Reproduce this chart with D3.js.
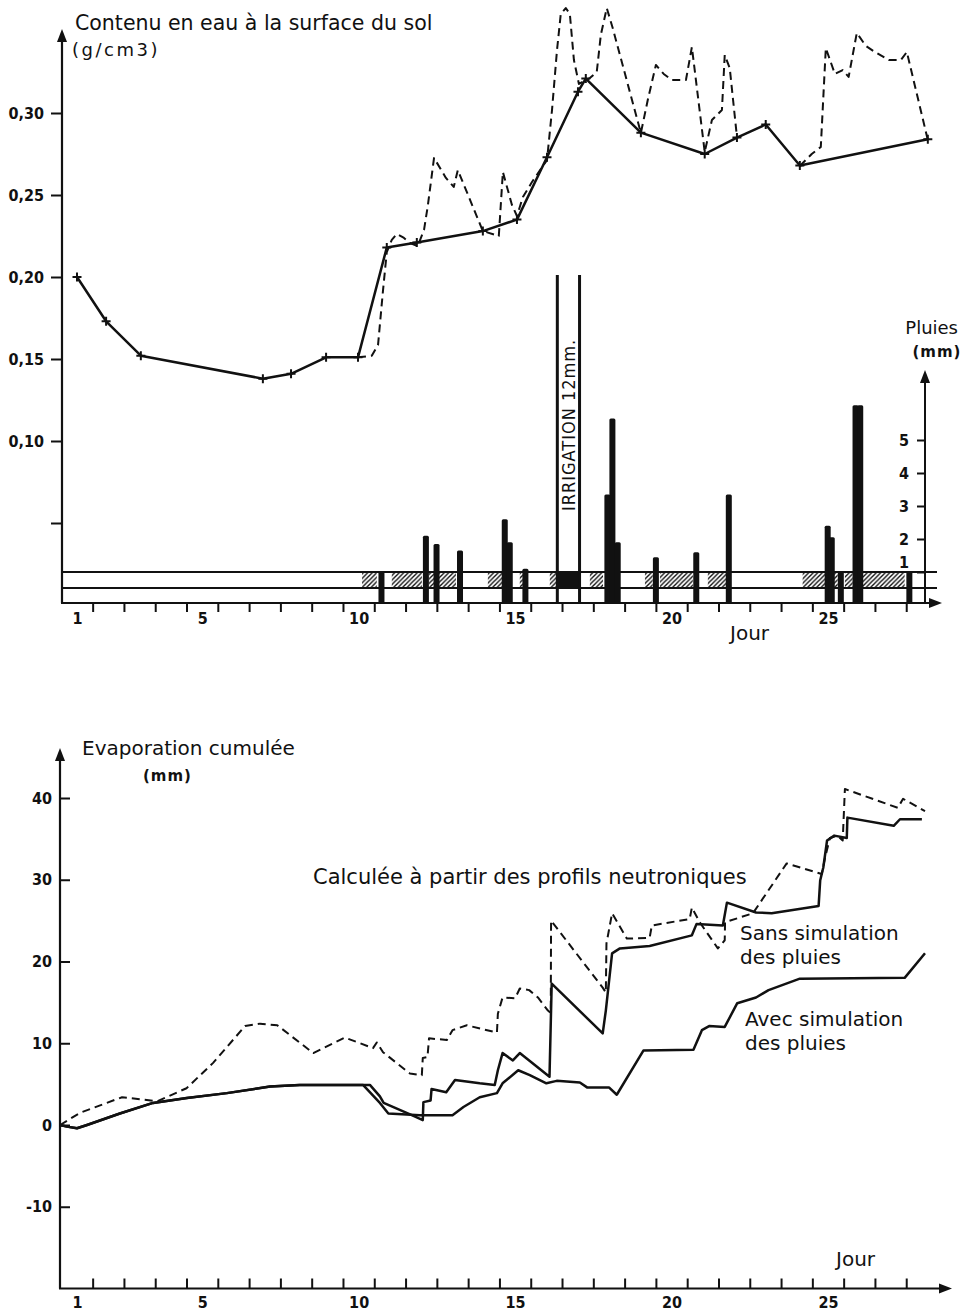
<!DOCTYPE html>
<html>
<head>
<meta charset="utf-8">
<script src="https://cdn.jsdelivr.net/npm/d3@7"></script>
<style>
  body { margin: 0; background: #fff; }
  svg { display: block; }
  text { font-family: 'DejaVu Sans', sans-serif; fill: #111; }
  .tick text, .narrow { font-family: 'DejaVu Sans Condensed', 'DejaVu Sans', sans-serif; }
</style>
</head>
<body>
<svg id="fig" width="962" height="1314"></svg>
<script>
// ---------- axis ticks ----------
const dayTicks = d3.range(1.5, 28, 1);          // day boundaries
const dayLabels = [1, 5, 10, 15, 20, 25];
const waterTicks = [0.05, 0.10, 0.15, 0.20, 0.25, 0.30];
const waterLabelled = [0.10, 0.15, 0.20, 0.25, 0.30];
const rainTicks = [1, 2, 3, 4, 5];
const evapTicks = [-10, 0, 10, 20, 30, 40];

// ---------- top panel: surface water content (g/cm3) ----------
const measuredDays  = [1, 1.93, 3.04, 6.94, 7.84, 8.96, 9.98, 10.9, 11.86, 13.97, 15.06, 16.02, 17.01, 17.26, 19.02, 21.06, 22.09, 23.01, 24.1, 28.19];
const measuredWater = [0.200, 0.173, 0.152, 0.138, 0.141, 0.151, 0.151, 0.218, 0.221, 0.228, 0.235, 0.273, 0.313, 0.321, 0.288, 0.275, 0.285, 0.293, 0.268, 0.284];

// simulated water content (null = gap in the curve)
const simulatedDays  = [9.98, 10.42, 10.62, 10.78, 10.90, 11.06, 11.22, 11.45, 11.64, 11.89, 12.09, 12.21, 12.41, 12.79, 13.04, 13.17, 13.97, 14.48, 14.61, 14.90, 15.06, 15.25, 15.54, 16.02, 16.18, 16.34, 16.46, 16.62, 16.75, 16.88, 17.04, 17.39, 17.61, 17.74, 17.93, 18.12, 19.02, 19.24, 19.50, 19.75, 20.01, 20.46, 20.65, 21.06, 21.29, 21.61, 21.70, 21.86, 22.09, 23.0,
                        24.10, 24.48, 24.77, 24.93, 25.22, 25.47, 25.66, 25.92, 26.21, 26.50, 26.94, 27.33, 27.52, 28.19];
const simulatedWater = [0.151, 0.152, 0.1585, 0.192, 0.2152, 0.2226, 0.2262, 0.2238, 0.2207, 0.2189, 0.2287, 0.2433, 0.2726, 0.2604, 0.2549, 0.2652, 0.228, 0.225, 0.264, 0.2439, 0.2372, 0.2488, 0.2579, 0.2713, 0.3018, 0.3384, 0.3604, 0.364, 0.3604, 0.3323, 0.3177, 0.3213, 0.325, 0.3476, 0.364, 0.3518, 0.2878, 0.3079, 0.3293, 0.3238, 0.3201, 0.3201, 0.3402, 0.2762, 0.2957, 0.3018, 0.3354, 0.3274, 0.2854, null,
                        0.2677, 0.275, 0.2793, 0.3396, 0.3238, 0.3262, 0.322, 0.3488, 0.3409, 0.3372, 0.3323, 0.3323, 0.3372, 0.2835];

// rainfall (mm)
const rainDays = [10.73, 12.15, 12.49, 13.24, 14.67, 14.83, 15.33, 17.95, 18.11, 18.28, 19.50, 20.79, 21.83, 24.99, 25.12, 25.41, 25.88, 26.03, 27.60];
const rainMm   = [1.0, 2.1, 1.85, 1.65, 2.6, 1.9, 1.1, 3.35, 5.65, 1.9, 1.45, 1.6, 3.35, 2.4, 2.05, 1.0, 6.05, 6.05, 1.0];

// irrigation (two bounding days) and amount
const irrigationDays = [16.35, 17.06];
const irrigationMm = 12;
const rainCap = 10;   // bars taller than this are cut

// hatched periods in the band under the curves
const hatchFrom = [10.11, 11.06, 12.25, 14.13, 15.15, 16.11, 17.39, 19.15, 19.63, 21.16, 24.19, 25.15, 25.54, 26.11];
const hatchTo   = [10.58, 12.02, 13.11, 14.61, 15.25, 16.34, 17.81, 19.40, 20.68, 21.77, 24.96, 25.31, 25.79, 27.45];

// ---------- bottom panel: cumulated evaporation (mm) ----------
const neutronDays = [0.46, 1.1, 2.44, 3.56, 4.5, 5.35, 6.37, 6.85, 7.4, 8.55, 9.56, 10.46, 10.58, 10.78, 11.64, 12.02, 12.05, 12.2, 12.25, 12.82, 13.0, 13.46, 13.88, 14.42, 14.45, 14.6, 15.0, 15.15, 15.45, 15.73, 16.05, 16.14, 16.15, 17.8, 17.9, 17.92, 18.1, 18.57, 19.3, 19.37, 20.58, 20.65, 20.9, 21.48, 21.7, 21.71, 22.6, 23.68, 24.8, 24.9, 25.06, 25.3, 25.47, 25.54, 27.23, 27.4, 28.1];
const neutronEvap = [0, 1.5, 3.4, 2.9, 4.5, 7.6, 12.1, 12.4, 12.2, 8.8, 10.7, 9.4, 10.1, 8.9, 6.3, 6.1, 8.2, 8.3, 10.6, 10.4, 11.6, 12.2, 11.8, 11.3, 13.6, 15.6, 15.5, 16.7, 16.5, 15.6, 14.0, 13.7, 25.0, 16.8, 16.2, 22.2, 25.9, 22.8, 22.9, 24.4, 25.2, 26.6, 24.8, 21.6, 22.6, 24.8, 25.9, 32.0, 30.7, 32.6, 35.1, 35.4, 34.8, 41.1, 38.8, 39.9, 38.4];

const sansDays = [0.46, 0.68, 1.0, 1.32, 2.37, 3.43, 4.51, 5.79, 7.17, 8.12, 10.14, 10.36, 10.68, 10.8, 11.7, 12.05, 12.07, 12.3, 12.33, 12.8, 13.08, 13.87, 14.35, 14.45, 14.6, 14.93, 15.15, 16.1, 16.17, 17.8, 17.9, 18.1, 18.35, 19.3, 20.65, 20.8, 21.64, 21.77, 22.7, 23.2, 24.7, 24.75, 24.85, 24.97, 25.2, 25.6, 25.62, 27.1, 27.3, 28.0];
const sansEvap = [0, -0.2, -0.4, 0, 1.4, 2.7, 3.3, 3.9, 4.7, 4.9, 4.9, 4.9, 3.5, 2.7, 1.2, 0.6, 2.8, 3.0, 4.4, 4.0, 5.5, 5.1, 4.9, 6.7, 8.8, 7.9, 8.8, 5.9, 17.3, 11.2, 14.0, 21.0, 21.6, 21.9, 23.2, 24.6, 24.4, 27.2, 26.0, 25.9, 26.8, 29.9, 31.5, 34.8, 35.4, 35.1, 37.6, 36.6, 37.4, 37.4];

const avecDays = [0.46, 0.68, 1.0, 1.32, 2.37, 3.43, 4.51, 5.79, 7.17, 8.12, 10.14, 10.68, 10.95, 11.96, 13.0, 13.35, 13.87, 14.42, 14.6, 15.1, 15.47, 16.0, 16.33, 17.07, 17.3, 18.0, 18.25, 19.1, 20.7, 20.97, 21.2, 21.7, 22.1, 22.7, 23.1, 24.1, 27.45, 28.1];
const avecEvap = [0, -0.2, -0.4, 0, 1.4, 2.7, 3.3, 3.9, 4.7, 4.9, 4.9, 2.7, 1.4, 1.2, 1.2, 2.2, 3.4, 3.9, 5.1, 6.7, 6.1, 5.1, 5.4, 5.2, 4.6, 4.6, 3.7, 9.1, 9.2, 11.6, 12.1, 12.0, 14.9, 15.6, 16.5, 17.9, 18.0, 21.0];

// ---------- drawing ----------
const INK = "#111";
const svg = d3.select("#fig");
svg.append("rect").attr("width", 962).attr("height", 1314).attr("fill", "#fff");

const defs = svg.append("defs");
const pat = defs.append("pattern").attr("id", "hatch")
  .attr("patternUnits", "userSpaceOnUse").attr("width", 4.5).attr("height", 4.5);
pat.append("path").attr("d", "M-1,1 L1,-1 M0,4.5 L4.5,0 M3.5,5.5 L5.5,3.5")
  .attr("stroke", INK).attr("stroke-width", 1.4);

const x = d3.scaleLinear().domain([1, 25]).range([77, 828]);
const yWater = d3.scaleLinear().domain([0.10, 0.30]).range([441, 113]);
const yRain = d3.scaleLinear().domain([0, 5]).range([605, 440]);
const yEvap = d3.scaleLinear().domain([0, 40]).range([1125, 798]);

const TOP_BASE = 603, TOP_LEFT = 62, TOP_END = 942, TOP_ARROW_Y = 29;
const RAIN_X = 925, RAIN_ARROW_Y = 370;
const STRIP_TOP = yRain(1), STRIP_MID = 588, STRIP_END = 937;
const BOT_LEFT = 60, BOT_BASE = yEvap(-20), BOT_END = 952, BOT_ARROW_Y = 748;

function arrow(g, px, py, dir) {
  const L = 13, W = 5;
  const d = dir === "up"
    ? `M${px},${py} L${px - W},${py + L} L${px + W},${py + L} Z`
    : `M${px},${py} L${px - L},${py - W} L${px - L},${py + W} Z`;
  g.append("path").attr("d", d).attr("fill", INK);
}
function styleAxis(g, size, weight) {
  g.attr("font-family", null).attr("font-size", size).attr("font-weight", weight);
  g.selectAll(".tick line").attr("stroke", INK).attr("stroke-width", 2);
  g.selectAll(".tick text").attr("fill", INK);
  g.select(".domain").remove();
}
const comma = v => d3.format(".2f")(v).replace(".", ",");

// ===== top panel =====
const panelTop = svg.append("g");

// band under the curves
panelTop.selectAll("rect.hatch").data(d3.zip(hatchFrom, hatchTo)).join("rect")
  .attr("class", "hatch")
  .attr("x", d => x(d[0])).attr("width", d => x(d[1]) - x(d[0]))
  .attr("y", STRIP_TOP + 1).attr("height", STRIP_MID - STRIP_TOP - 2)
  .attr("fill", "url(#hatch)");
panelTop.append("rect")
  .attr("x", x(irrigationDays[0])).attr("width", x(irrigationDays[1]) - x(irrigationDays[0]))
  .attr("y", STRIP_TOP).attr("height", STRIP_MID - STRIP_TOP).attr("fill", INK);
[STRIP_TOP, STRIP_MID].forEach(yy =>
  panelTop.append("line").attr("x1", TOP_LEFT).attr("x2", STRIP_END).attr("y1", yy).attr("y2", yy)
    .attr("stroke", INK).attr("stroke-width", 2));

// rain bars
panelTop.selectAll("rect.rain").data(d3.zip(rainDays, rainMm)).join("rect")
  .attr("class", "rain")
  .attr("x", d => x(d[0]) - 3).attr("width", 6)
  .attr("y", d => yRain(d[1])).attr("height", d => TOP_BASE - yRain(d[1]))
  .attr("rx", 1.5).attr("fill", INK);

// irrigation
irrigationDays.forEach(d =>
  panelTop.append("line").attr("x1", x(d)).attr("x2", x(d))
    .attr("y1", TOP_BASE).attr("y2", yRain(Math.min(irrigationMm, rainCap)))
    .attr("stroke", INK).attr("stroke-width", 3));
panelTop.append("text").attr("class", "narrow")
  .attr("transform", `translate(${(x(irrigationDays[0]) + x(irrigationDays[1])) / 2 + 6.5},511) rotate(-90)`)
  .attr("font-size", 18).attr("letter-spacing", 1)
  .text(`IRRIGATION ${irrigationMm}mm.`);

// axes
panelTop.append("line").attr("x1", TOP_LEFT).attr("x2", TOP_LEFT).attr("y1", TOP_BASE).attr("y2", TOP_ARROW_Y + 8)
  .attr("stroke", INK).attr("stroke-width", 2.2);
arrow(panelTop, TOP_LEFT, TOP_ARROW_Y, "up");
panelTop.append("line").attr("x1", TOP_LEFT - 1).attr("x2", TOP_END - 8).attr("y1", TOP_BASE).attr("y2", TOP_BASE)
  .attr("stroke", INK).attr("stroke-width", 2.2);
arrow(panelTop, TOP_END, TOP_BASE, "right");

panelTop.append("g").attr("transform", `translate(${TOP_LEFT},0)`)
  .call(d3.axisLeft(yWater).tickValues(waterTicks).tickSize(11).tickPadding(7)
    .tickFormat(v => waterLabelled.includes(v) ? comma(v) : ""))
  .call(g => styleAxis(g, 16, "bold"));

panelTop.append("g").attr("transform", `translate(0,${TOP_BASE})`)
  .call(d3.axisBottom(x).tickValues(dayTicks).tickSize(9).tickFormat(""))
  .call(g => styleAxis(g, 16, "bold"));
panelTop.append("g").attr("transform", `translate(0,${TOP_BASE})`)
  .call(d3.axisBottom(x).tickValues(dayLabels).tickSize(0).tickPadding(10).tickFormat(d3.format("d")))
  .call(g => styleAxis(g, 16, "bold"));

// rain axis
panelTop.append("line").attr("x1", RAIN_X).attr("x2", RAIN_X).attr("y1", TOP_BASE).attr("y2", RAIN_ARROW_Y + 8)
  .attr("stroke", INK).attr("stroke-width", 2);
arrow(panelTop, RAIN_X, RAIN_ARROW_Y, "up");
panelTop.append("g").attr("transform", `translate(${RAIN_X},0)`)
  .call(d3.axisLeft(yRain).tickValues(rainTicks).tickSize(8).tickPadding(8).tickFormat(d3.format("d")))
  .call(g => styleAxis(g, 16, "bold"))
  .call(g => g.selectAll(".tick").filter(d => d === 1).select("text").attr("y", -10));
panelTop.append("text").attr("x", 958).attr("y", 334).attr("text-anchor", "end").attr("font-size", 18).text("Pluies");
panelTop.append("text").attr("x", 937).attr("y", 357).attr("text-anchor", "middle").attr("font-size", 15)
  .attr("font-weight", "bold").attr("letter-spacing", 1).text("(mm)");

// titles
panelTop.append("text").attr("x", 75).attr("y", 30).attr("font-size", 20.5).text("Contenu en eau à la surface du sol");
panelTop.append("text").attr("x", 72).attr("y", 56).attr("font-size", 18).attr("letter-spacing", 2.5).text("(g/cm3)");
panelTop.append("text").attr("x", 730).attr("y", 640).attr("font-size", 20).text("Jour");

// curves
const waterLine = d3.line().defined(d => d[1] != null).x(d => x(d[0])).y(d => yWater(d[1]));
panelTop.append("path").datum(d3.zip(simulatedDays, simulatedWater))
  .attr("d", waterLine).attr("fill", "none").attr("stroke", INK)
  .attr("stroke-width", 2).attr("stroke-dasharray", "8,5").attr("stroke-linejoin", "round");
panelTop.append("path").datum(d3.zip(measuredDays, measuredWater))
  .attr("d", waterLine).attr("fill", "none").attr("stroke", INK)
  .attr("stroke-width", 2.5).attr("stroke-linejoin", "round");
panelTop.selectAll("path.plus").data(d3.zip(measuredDays, measuredWater)).join("path")
  .attr("class", "plus")
  .attr("transform", d => `translate(${x(d[0])},${yWater(d[1])})`)
  .attr("d", "M-4.5,0H4.5M0,-4.5V4.5").attr("stroke", INK).attr("stroke-width", 2);

// ===== bottom panel =====
const panelBot = svg.append("g");
panelBot.append("line").attr("x1", BOT_LEFT).attr("x2", BOT_LEFT).attr("y1", BOT_BASE).attr("y2", BOT_ARROW_Y + 8)
  .attr("stroke", INK).attr("stroke-width", 2.2);
arrow(panelBot, BOT_LEFT, BOT_ARROW_Y, "up");
panelBot.append("line").attr("x1", BOT_LEFT - 1).attr("x2", BOT_END - 8).attr("y1", BOT_BASE).attr("y2", BOT_BASE)
  .attr("stroke", INK).attr("stroke-width", 2.2);
arrow(panelBot, BOT_END, BOT_BASE, "right");

panelBot.append("g").attr("transform", `translate(${BOT_LEFT},0)`)
  .call(d3.axisLeft(yEvap).tickValues(evapTicks).tickSize(-10).tickPadding(8)
    .tickFormat(v => String(v)))
  .call(g => styleAxis(g, 16, "bold"));
panelBot.append("g").attr("transform", `translate(0,${BOT_BASE})`)
  .call(d3.axisBottom(x).tickValues(dayTicks).tickSize(-10).tickFormat(""))
  .call(g => styleAxis(g, 16, "bold"));
panelBot.append("g").attr("transform", `translate(0,${BOT_BASE})`)
  .call(d3.axisBottom(x).tickValues(dayLabels).tickSize(0).tickPadding(8).tickFormat(d3.format("d")))
  .call(g => styleAxis(g, 16, "bold"));

panelBot.append("text").attr("x", 82).attr("y", 755).attr("font-size", 20).text("Evaporation cumulée");
panelBot.append("text").attr("x", 143).attr("y", 781).attr("font-size", 15).attr("font-weight", "bold")
  .attr("letter-spacing", 1).text("(mm)");
panelBot.append("text").attr("x", 836).attr("y", 1266).attr("font-size", 20).text("Jour");

panelBot.append("text").attr("x", 313).attr("y", 884).attr("font-size", 21).text("Calculée à partir des profils neutroniques");
panelBot.append("text").attr("x", 740).attr("y", 940).attr("font-size", 20).text("Sans simulation");
panelBot.append("text").attr("x", 740).attr("y", 964).attr("font-size", 20).text("des pluies");
panelBot.append("text").attr("x", 745).attr("y", 1026).attr("font-size", 20).text("Avec simulation");
panelBot.append("text").attr("x", 745).attr("y", 1050).attr("font-size", 20).text("des pluies");

const evapLine = d3.line().x(d => x(d[0])).y(d => yEvap(d[1]));
panelBot.append("path").datum(d3.zip(neutronDays, neutronEvap))
  .attr("d", evapLine).attr("fill", "none").attr("stroke", INK)
  .attr("stroke-width", 2).attr("stroke-dasharray", "8,5").attr("stroke-linejoin", "round");
panelBot.append("path").datum(d3.zip(sansDays, sansEvap))
  .attr("d", evapLine).attr("fill", "none").attr("stroke", INK)
  .attr("stroke-width", 2.5).attr("stroke-linejoin", "round");
panelBot.append("path").datum(d3.zip(avecDays, avecEvap))
  .attr("d", evapLine).attr("fill", "none").attr("stroke", INK)
  .attr("stroke-width", 2.5).attr("stroke-linejoin", "round");
</script>
</body>
</html>
